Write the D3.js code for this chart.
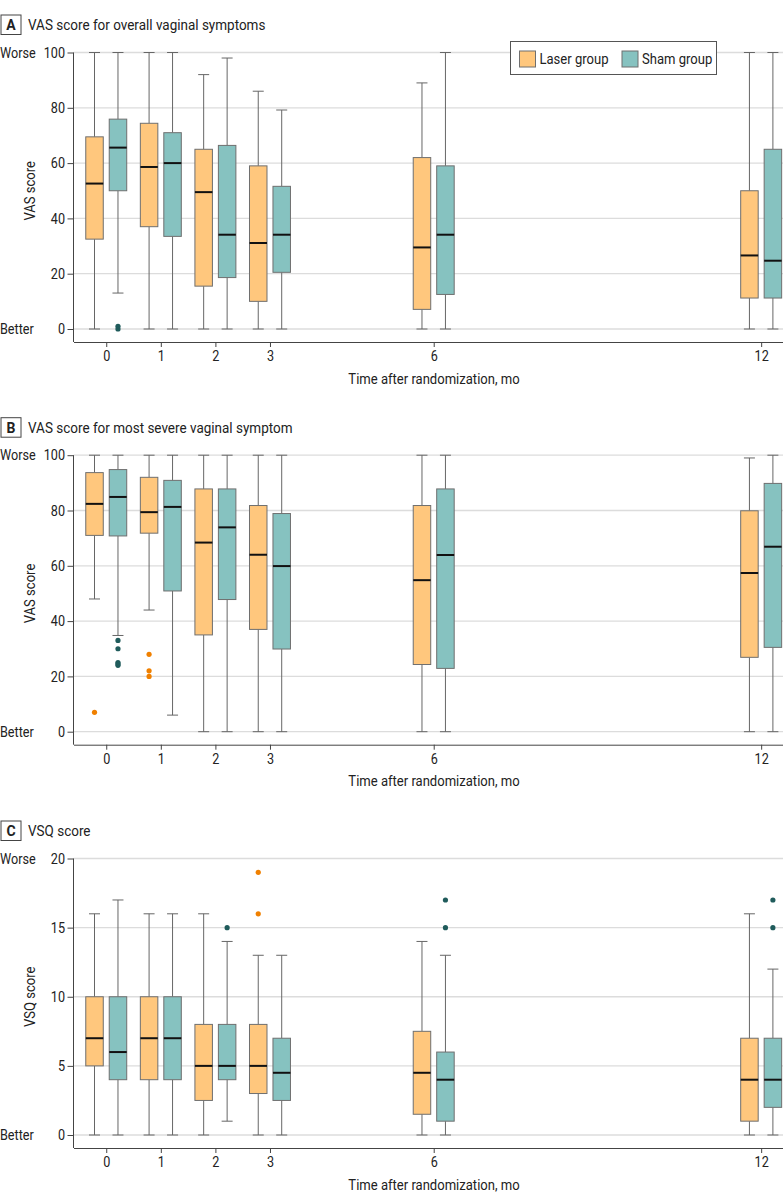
<!DOCTYPE html>
<html><head><meta charset="utf-8">
<script src="https://cdn.jsdelivr.net/npm/d3@7/dist/d3.min.js"></script>
<style>
body{margin:0;background:#fff;}
svg text{font-family:"Roboto","Liberation Sans",sans-serif;fill:#222;}
</style></head>
<body><svg id="c" width="783" height="1203"></svg>
<script>
// ---- data ----
const months = [0, 1, 2, 3, 6, 12];
const groups = ["Laser group", "Sham group"];
const xTickLabels = ["0", "1", "2", "3", "6", "12"];

// each stat row: [whiskerLow, q1, median, q3, whiskerHigh]
const vasOverallLaser = [[0,32.5,52.6,69.5,100],[0,37,58.6,74.4,100],[0,15.5,49.5,65,92],[0,10,31.1,59,86],[0,7.1,29.5,62,89],[0,11.2,26.6,50,100]];
const vasOverallSham  = [[13,50,65.6,75.9,100],[0,33.5,60,71,100],[0,18.6,34.1,66.4,98],[0,20.5,34.1,51.6,79.2],[0,12.5,34.1,59,100],[0,11.2,24.7,65,100]];
const vasOverallLaserOut = [[],[],[],[],[],[]];
const vasOverallShamOut  = [[0,1],[],[],[],[],[]];

const vasSevereLaser = [[48,71,82.4,93.7,100],[44,71.8,79.4,92,100],[0,35,68.4,87.8,100],[0,37,64,81.8,100],[0,24.3,54.8,81.8,100],[0,26.9,57.4,79.9,99]];
const vasSevereSham  = [[34.8,70.8,84.9,94.8,100],[6,50.9,81.3,90.9,100],[0,47.8,73.9,87.8,100],[0,29.9,59.9,78.9,100],[0,22.9,63.9,87.8,100],[0,30.5,66.9,89.8,100]];
const vasSevereLaserOut = [[7],[28,22,20],[],[],[],[]];
const vasSevereShamOut  = [[33,30,25,24.5,24],[],[],[],[],[]];

const vsqLaser = [[0,5,7,10,16],[0,4,7,10,16],[0,2.5,5,8,16],[0,3,5,8,13],[0,1.5,4.5,7.5,14],[0,1,4,7,16]];
const vsqSham  = [[0,4,6,10,17],[0,4,7,10,16],[1,4,5,8,14],[0,2.5,4.5,7,13],[0,1,4,6,13],[0,2,4,7,12]];
const vsqLaserOut = [[],[],[],[16,19],[],[]];
const vsqShamOut  = [[],[],[15],[],[15,17],[15,17]];

const vasTicks = [0,20,40,60,80,100];
const vsqTicks = [0,5,10,15,20];

const panels = [
  {letter:"A", title:"VAS score for overall vaginal symptoms", ytitle:"VAS score", max:100, ticks:vasTicks,
   series:[vasOverallLaser, vasOverallSham], outliers:[vasOverallLaserOut, vasOverallShamOut], top:0, legend:true},
  {letter:"B", title:"VAS score for most severe vaginal symptom", ytitle:"VAS score", max:100, ticks:vasTicks,
   series:[vasSevereLaser, vasSevereSham], outliers:[vasSevereLaserOut, vasSevereShamOut], top:402.7, legend:false},
  {letter:"C", title:"VSQ score", ytitle:"VSQ score", max:20, ticks:vsqTicks,
   series:[vsqLaser, vsqSham], outliers:[vsqLaserOut, vsqShamOut], top:806, legend:false}
];

// ---- style ----
const fills = ["#FFC77D", "#86C2C0"];
const outColors = ["#F08000", "#1F5B5B"];
const svg = d3.select("#c");
const left = 73.5, right = 783;
const x = d3.scaleLinear().domain([-0.6, 12.4]).range([left, right]);
const offsets = [-0.215, 0.215];
const boxW = 17.5, capW = 11;

panels.forEach(p => {
  const g = svg.append("g").attr("transform", `translate(0,${p.top})`);
  const y = d3.scaleLinear().domain([0, p.max]).range([329, 52.5]);
  const axisY = 342;

  // header
  g.append("rect").attr("x",1).attr("y",15).attr("width",20).attr("height",19.5)
    .attr("fill","#fff").attr("stroke","#444").attr("stroke-width",1);
  g.append("text").attr("x",11).attr("y",30).attr("text-anchor","middle")
    .attr("font-size",14).attr("font-weight","bold").text(p.letter);
  g.append("text").attr("class","cond").attr("x",28).attr("y",30).attr("font-size",15.5).text(p.title);

  // gridlines
  g.append("g").selectAll("line").data(p.ticks).join("line")
    .attr("x1",left).attr("x2",right).attr("y1",d=>y(d)).attr("y2",d=>y(d))
    .attr("stroke","#dcdcdc").attr("stroke-width",1.3);

  // y axis
  const ya = g.append("g").attr("transform",`translate(${left},0)`)
    .call(d3.axisLeft(y).tickValues(p.ticks).tickSize(6).tickPadding(2.5));
  ya.select(".domain").remove();
  ya.selectAll(".tick line").attr("stroke","#444");
  ya.selectAll(".tick text").attr("class","cond").attr("font-size",14.5).attr("fill","#222")
    .style("font-family",'"Roboto",sans-serif');
  g.append("line").attr("x1",left).attr("x2",left).attr("y1",y(p.max)).attr("y2",axisY)
    .attr("stroke","#444").attr("stroke-width",1);

  // x axis
  const xa = g.append("g").attr("transform",`translate(0,${axisY})`)
    .call(d3.axisBottom(x).tickValues(months).tickFormat((d,i)=>xTickLabels[i]).tickSize(5).tickSizeOuter(0).tickPadding(4));
  xa.select(".domain").attr("stroke","#444");
  xa.selectAll(".tick line").attr("stroke","#444");
  xa.selectAll(".tick text").attr("class","cond").attr("font-size",14.5).attr("fill","#222")
    .style("font-family",'"Roboto",sans-serif');

  g.append("text").attr("class","cond").attr("x",434).attr("y",383.5).attr("text-anchor","middle").attr("font-size",15)
    .text("Time after randomization, mo");
  g.append("text").attr("class","cond").attr("transform",`translate(34.5,${(y(0)+y(p.max))/2}) rotate(-90)`)
    .attr("text-anchor","middle").attr("font-size",15).text(p.ytitle);
  g.append("text").attr("class","cond").attr("x",0).attr("y",y(p.max)+5).attr("font-size",14.5).text("Worse");
  g.append("text").attr("class","cond").attr("x",0).attr("y",y(0)+5).attr("font-size",14.5).text("Better");

  // boxes
  p.series.forEach((ser, gi) => {
    const sg = g.append("g");
    ser.forEach((s, mi) => {
      const cx = x(months[mi] + offsets[gi]);
      const [lo,q1,med,q3,hi] = s;
      sg.append("line").attr("x1",cx).attr("x2",cx).attr("y1",y(hi)).attr("y2",y(q3)).attr("stroke","#666");
      sg.append("line").attr("x1",cx).attr("x2",cx).attr("y1",y(q1)).attr("y2",y(lo)).attr("stroke","#666");
      sg.append("line").attr("x1",cx-capW/2).attr("x2",cx+capW/2).attr("y1",y(hi)).attr("y2",y(hi)).attr("stroke","#666");
      sg.append("line").attr("x1",cx-capW/2).attr("x2",cx+capW/2).attr("y1",y(lo)).attr("y2",y(lo)).attr("stroke","#666");
      sg.append("rect").attr("x",cx-boxW/2).attr("width",boxW).attr("y",y(q3)).attr("height",y(q1)-y(q3))
        .attr("fill",fills[gi]).attr("stroke","#6f6f6f").attr("stroke-width",1);
      sg.append("line").attr("x1",cx-boxW/2).attr("x2",cx+boxW/2).attr("y1",y(med)).attr("y2",y(med))
        .attr("stroke","#111").attr("stroke-width",2);
      p.outliers[gi][mi].forEach(v => {
        sg.append("circle").attr("cx",cx).attr("cy",y(v)).attr("r",2.6).attr("fill",outColors[gi]);
      });
    });
  });

  if (p.legend) {
    const lg = g.append("g");
    lg.append("rect").attr("x",510.5).attr("y",41.5).attr("width",206).attr("height",33)
      .attr("fill","#fff").attr("stroke","#555");
    const lx = [519.5, 622];
    groups.forEach((name, i) => {
      lg.append("rect").attr("x",lx[i]).attr("y",51).attr("width",16).attr("height",16)
        .attr("fill",fills[i]).attr("stroke","#6f6f6f");
      lg.append("text").attr("class","cond").attr("x",lx[i]+20).attr("y",64).attr("font-size",15).text(name);
    });
  }
});

// condensed look: compress glyphs horizontally to mimic the narrow typeface
svg.selectAll("text.cond").each(function(){
  const L = this.getComputedTextLength();
  d3.select(this).attr("textLength", (L*0.87).toFixed(1)).attr("lengthAdjust","spacingAndGlyphs");
});
</script></body></html>
